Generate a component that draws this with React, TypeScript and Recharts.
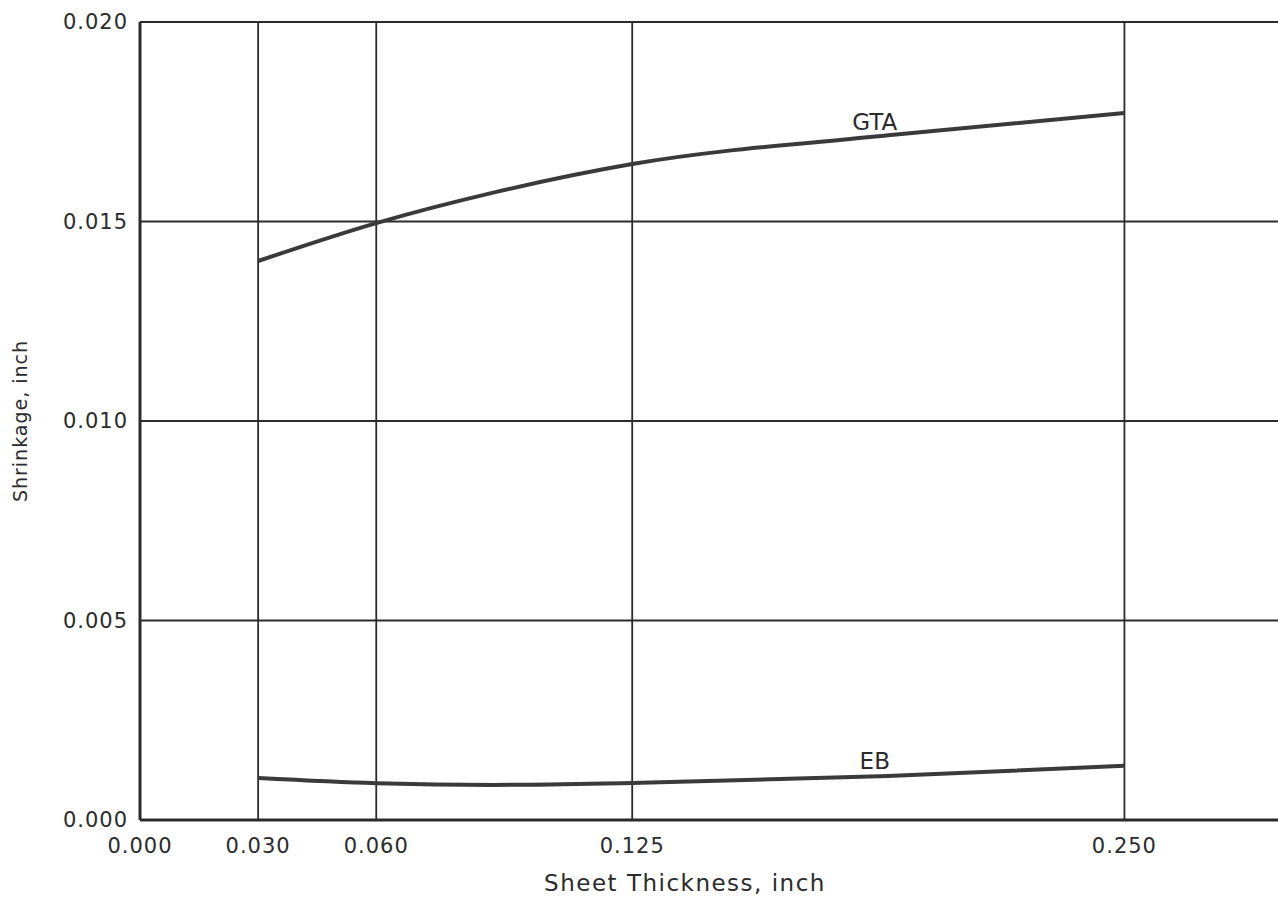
import { LineChart, Line, XAxis, YAxis, CartesianGrid, ReferenceDot } from "recharts";

const thickness = [0.03, 0.06, 0.09, 0.125, 0.19, 0.25];
const gtaShrinkage = [0.01401, 0.01496, 0.01573, 0.01644, 0.01716, 0.01772];
const ebShrinkage = [0.00105, 0.00092, 0.00088, 0.00093, 0.0011, 0.00136];

const xTicks = [0, 0.03, 0.06, 0.125, 0.25];
const yTicks = [0, 0.005, 0.01, 0.015, 0.02];

const data = thickness.map((t, i) => ({ t, gta: gtaShrinkage[i], eb: ebShrinkage[i] }));

const INK = "#2b2b2b";
const FONT = "'DejaVu Sans', sans-serif";

export default function App() {
  return (
    <div style={{ position: "absolute", left: 0, top: 0, background: "#fff" }}>
      <LineChart width={1278} height={901} data={data} margin={{ top: 22, right: 0, left: 0, bottom: 0 }}>
        <CartesianGrid stroke={INK} strokeWidth={1.8} horizontalValues={yTicks} verticalValues={xTicks} />
        <XAxis
          type="number"
          dataKey="t"
          domain={[0, 0.289]}
          ticks={xTicks}
          tickFormatter={(v: number) => v.toFixed(3)}
          tickLine={false}
          axisLine={{ stroke: INK, strokeWidth: 3 }}
          tickMargin={12}
          height={81}
          tick={{ fill: INK, fontSize: 21, fontFamily: FONT, letterSpacing: 1 }}
          label={{ value: "Sheet Thickness, inch", position: "insideBottom", offset: 10, dx: -24, fill: INK, fontSize: 23, fontFamily: FONT, letterSpacing: 1.5 }}
        />
        <YAxis
          type="number"
          domain={[0, 0.02]}
          ticks={yTicks}
          tickFormatter={(v: number) => v.toFixed(3)}
          tickLine={false}
          axisLine={{ stroke: INK, strokeWidth: 3 }}
          tickMargin={6}
          width={140}
          tick={{ fill: INK, fontSize: 21, fontFamily: FONT, letterSpacing: 1 }}
          label={{ value: "Shrinkage, inch", angle: -90, position: "insideLeft", offset: 20, fill: INK, fontSize: 19, fontFamily: FONT, letterSpacing: 1, style: { textAnchor: "middle" } }}
        />
        <Line type="monotone" dataKey="gta" stroke="#3a3a3a" strokeWidth={4} dot={false} isAnimationActive={false} />
        <Line type="monotone" dataKey="eb" stroke="#3a3a3a" strokeWidth={4} dot={false} isAnimationActive={false} />
        <ReferenceDot x={0.1866} y={0.0175} r={0} label={{ value: "GTA", position: "center", fill: INK, fontSize: 23, fontFamily: FONT }} />
        <ReferenceDot x={0.1866} y={0.00148} r={0} label={{ value: "EB", position: "center", fill: INK, fontSize: 23, fontFamily: FONT }} />
      </LineChart>
    </div>
  );
}
